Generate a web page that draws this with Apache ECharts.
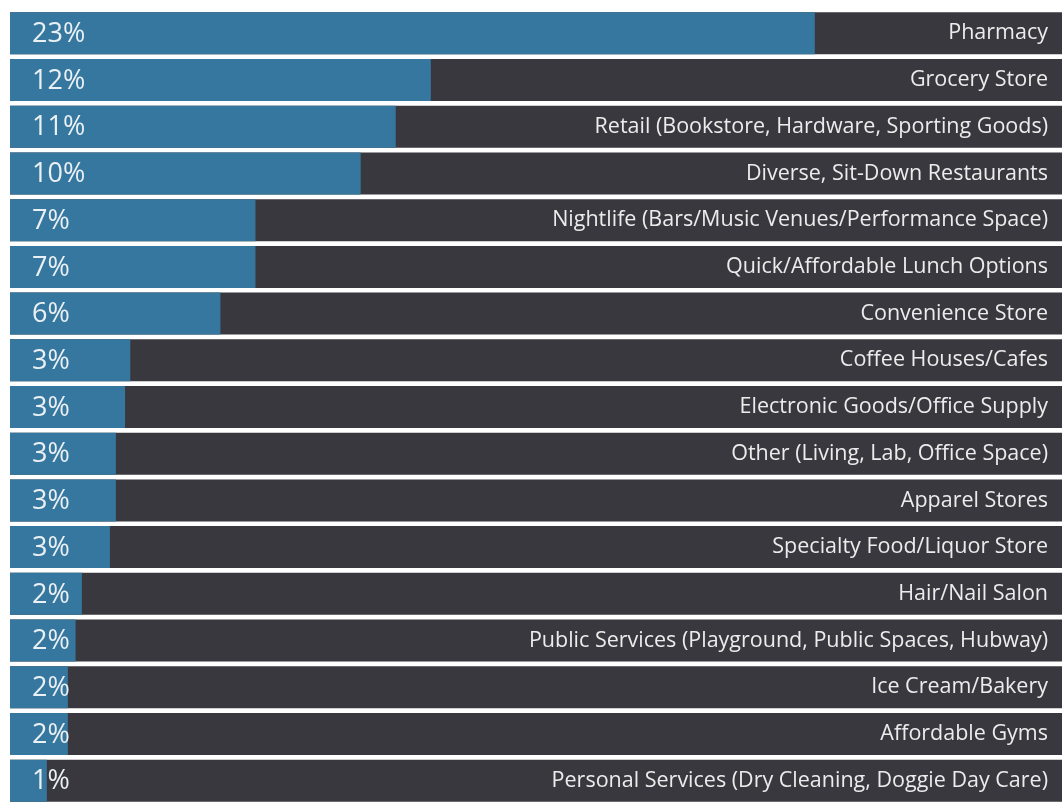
<!DOCTYPE html>
<html>
<head>
<meta charset="utf-8">
<script src="https://cdn.jsdelivr.net/npm/echarts@6/dist/echarts.min.js"></script>
<style>
    html, body { margin: 0; padding: 0; background: #ffffff; }
    #chart { width: 1062px; height: 804px; }
</style>
</head>
<body>
<div id="chart"></div>
<script>
    var categories = [
        'Pharmacy',
        'Grocery Store',
        'Retail (Bookstore, Hardware, Sporting Goods)',
        'Diverse, Sit-Down Restaurants',
        'Nightlife (Bars/Music Venues/Performance Space)',
        'Quick/Affordable Lunch Options',
        'Convenience Store',
        'Coffee Houses/Cafes',
        'Electronic Goods/Office Supply',
        'Other (Living, Lab, Office Space)',
        'Apparel Stores',
        'Specialty Food/Liquor Store',
        'Hair/Nail Salon',
        'Public Services (Playground, Public Spaces, Hubway)',
        'Ice Cream/Bakery',
        'Affordable Gyms',
        'Personal Services (Dry Cleaning, Doggie Day Care)'
    ];
    // share of responses
    var shares = [22.95, 12.0, 11.0, 10.0, 7.0, 7.0, 6.0, 3.43, 3.28, 3.02, 3.02, 2.85, 2.05, 1.87, 1.65, 1.65, 1.05];
    var shareLabels = ['23%', '12%', '11%', '10%', '7%', '7%', '6%', '3%', '3%', '3%', '3%', '3%', '2%', '2%', '2%', '2%', '1%'];

    var chart = echarts.init(document.getElementById('chart'));
    chart.setOption({
        animation: false,
        grid: { left: 10, right: 0, top: 10, bottom: 0 },
        xAxis: {
            type: 'value',
            min: 0,
            max: 30,
            show: false
        },
        yAxis: {
            type: 'category',
            data: categories,
            inverse: true,
            position: 'right',
            z: 10,
            axisLine: { show: false },
            axisTick: { show: false },
            splitLine: { show: false },
            axisLabel: {
                inside: true,
                margin: 14,
                color: '#ececec',
                fontFamily: 'Open Sans',
                fontSize: 21.5
            }
        },
        series: [{
            type: 'bar',
            data: shares,
            barWidth: 42,
            showBackground: true,
            backgroundStyle: { color: '#39383f' },
            itemStyle: { color: '#3677a0' },
            label: {
                show: true,
                position: 'insideLeft',
                offset: [17, 1],
                color: '#eaf0f3',
                fontFamily: 'Open Sans',
                fontSize: 27,
                formatter: function (p) { return shareLabels[p.dataIndex]; }
            }
        }]
    });
</script>
</body>
</html>
